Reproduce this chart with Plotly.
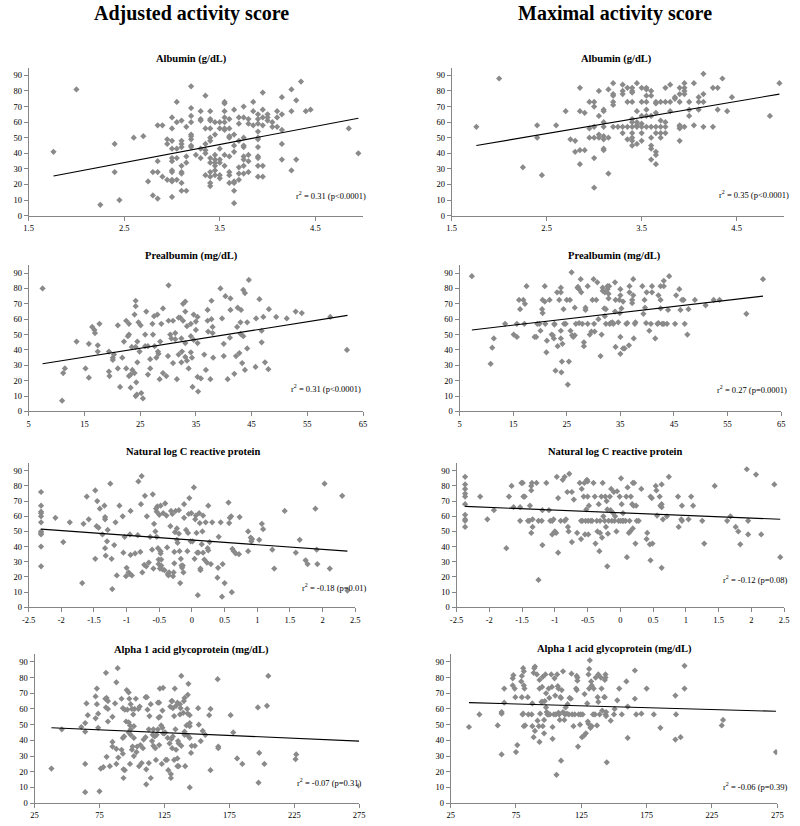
import plotly.graph_objects as go

# ---------------- Column headers & panel titles ----------------
col_headers = ["Adjusted activity score", "Maximal activity score"]
panel_titles = ["Albumin (g/dL)", "Albumin (g/dL)",
                "Prealbumin (mg/dL)", "Prealbumin (mg/dL)",
                "Natural log C reactive protein", "Natural log C reactive protein",
                "Alpha 1 acid glycoprotein (mg/dL)", "Alpha 1 acid glycoprotein (mg/dL)"]
stat_labels = ["r<sup>2</sup> = 0.31 (p&lt;0.0001)", "r<sup>2</sup> = 0.35 (p&lt;0.0001)",
               "r<sup>2</sup> = 0.31 (p&lt;0.0001)", "r<sup>2</sup> = 0.27 (p=0.0001)",
               "r<sup>2</sup> = -0.18 (p=0.01)", "r<sup>2</sup> = -0.12 (p=0.08)",
               "r<sup>2</sup> = -0.07 (p=0.31)", "r<sup>2</sup> = -0.06 (p=0.39)"]

# ---------------- Tick labels ----------------
y_ticks = [0, 10, 20, 30, 40, 50, 60, 70, 80, 90]
alb_ticks = [1.5, 2.5, 3.5, 4.5]
prealb_ticks = [5, 15, 25, 35, 45, 55, 65]
crp_ticks = [-2.5, -2, -1.5, -1, -0.5, 0, 0.5, 1, 1.5, 2, 2.5]
crp_ticktext = ["-2.5", "-2", "-1.5", "-1", "-0.5", "0", "0.5", "1", "1.5", "2", "2.5"]
agp_ticks = [25, 75, 125, 175, 225, 275]

# ---------------- Panel 1: Adjusted score vs Albumin ----------------
adj_alb_x = [1.76, 2.0, 2.25, 2.4, 2.4, 2.45, 2.6, 2.7, 2.75, 2.8, 2.8,
             2.85, 2.85, 2.85, 2.85, 2.9, 2.9, 2.95, 2.95, 2.95,
             3.0, 3.0, 3.0, 3.0, 3.0, 3.0, 3.0, 3.0, 3.0, 3.0, 3.0,
             3.05, 3.05, 3.05, 3.05, 3.05,
             3.1, 3.1, 3.1, 3.1, 3.1, 3.1, 3.1, 3.1, 3.1,
             3.15, 3.15, 3.15, 3.15,
             3.2, 3.2, 3.2, 3.2, 3.2, 3.2, 3.2, 3.2, 3.2,
             3.25,
             3.3, 3.3, 3.3, 3.3, 3.3,
             3.35, 3.35, 3.35, 3.35, 3.35, 3.35,
             3.4, 3.4, 3.4, 3.4, 3.4, 3.4, 3.4, 3.4, 3.4, 3.4, 3.4, 3.4,
             3.45, 3.45, 3.45, 3.45, 3.45, 3.45, 3.45, 3.45,
             3.5, 3.5, 3.5, 3.5, 3.5, 3.5, 3.5,
             3.55, 3.55, 3.55, 3.55, 3.55, 3.55, 3.55, 3.55, 3.55,
             3.6, 3.6, 3.6, 3.6, 3.6, 3.6, 3.6, 3.6,
             3.65, 3.65, 3.65, 3.65, 3.65, 3.65, 3.65, 3.65,
             3.7, 3.7, 3.7, 3.7, 3.7, 3.7,
             3.75, 3.75, 3.75, 3.75, 3.75, 3.75, 3.75, 3.75, 3.75,
             3.8, 3.8, 3.8, 3.8, 3.8,
             3.85, 3.85, 3.85,
             3.9, 3.9, 3.9, 3.9, 3.9, 3.9, 3.9, 3.9, 3.9, 3.9, 3.9,
             3.95, 3.95, 3.95, 3.95, 3.95, 3.95,
             4.0, 4.0, 4.0, 4.05, 4.05, 4.1, 4.1, 4.1,
             4.15, 4.15, 4.15, 4.15, 4.15,
             4.25, 4.25, 4.25, 4.3, 4.3, 4.35, 4.4, 4.45, 4.85, 4.95]
adj_alb_y = [41, 81, 7, 46, 28, 10, 50, 51, 22, 28, 13,
             58, 35, 28, 11, 58, 25, 49, 46, 23,
             63, 56, 48, 43, 37, 35, 29, 28, 23, 22, 12,
             73, 60, 43, 37, 23,
             61, 48, 46, 44, 32, 28, 27, 21, 16,
             57, 38, 34, 16,
             83, 69, 64, 60, 52, 51, 49, 45, 44,
             39,
             67, 62, 61, 43, 37,
             77, 56, 46, 42, 40, 26,
             67, 62, 61, 56, 50, 48, 37, 34, 28, 25, 21, 19,
             60, 52, 39, 36, 34, 32, 29, 26,
             60, 56, 43, 36, 34, 26, 24,
             73, 72, 67, 63, 60, 56, 55, 39, 32,
             62, 56, 51, 50, 38, 28, 26, 21,
             68, 52, 45, 41, 22, 21, 16, 8,
             63, 59, 48, 31, 27, 23,
             70, 63, 50, 45, 44, 38, 36, 32, 27,
             62, 59, 39, 35, 28,
             73, 67, 58,
             65, 62, 59, 54, 50, 49, 44, 38, 37, 32, 25,
             79, 68, 63, 58, 32, 25,
             65, 63, 61, 60, 57, 67, 63, 57,
             76, 65, 55, 46, 36,
             81, 67, 29, 74, 36, 86, 67, 68, 56, 40]
adj_alb_fit_x = [1.76, 4.95]
adj_alb_fit_y = [25.5, 62.5]

# ---------------- Panel 2: Maximal score vs Albumin ----------------
max_alb_x = [1.76, 2.0, 2.25, 2.4, 2.4, 2.45, 2.6, 2.7, 2.75, 2.8, 2.8,
             2.85, 2.85, 2.85, 2.85, 2.9, 2.9, 2.95, 2.95, 2.95,
             3.0, 3.0, 3.0, 3.0, 3.0, 3.0,
             3.05, 3.05, 3.05, 3.05,
             3.1, 3.1, 3.1, 3.1, 3.1, 3.1, 3.1, 3.1,
             3.15, 3.15, 3.15,
             3.2, 3.2, 3.2, 3.2, 3.2, 3.2,
             3.25,
             3.3, 3.3, 3.3, 3.3, 3.3,
             3.35, 3.35, 3.35, 3.35,
             3.4, 3.4, 3.4, 3.4, 3.4, 3.4, 3.4, 3.4, 3.4, 3.4, 3.4,
             3.45, 3.45, 3.45, 3.45, 3.45, 3.45,
             3.5, 3.5, 3.5, 3.5, 3.5, 3.5, 3.5,
             3.55, 3.55, 3.55, 3.55, 3.55, 3.55, 3.55,
             3.6, 3.6, 3.6, 3.6, 3.6, 3.6, 3.6, 3.6,
             3.65, 3.65, 3.65, 3.65, 3.65, 3.65, 3.65, 3.65,
             3.7, 3.7, 3.7, 3.7, 3.7,
             3.75, 3.75, 3.75, 3.75, 3.75,
             3.8, 3.8, 3.8,
             3.85, 3.85,
             3.9, 3.9, 3.9, 3.9, 3.9, 3.9, 3.9,
             3.95, 3.95, 3.95, 3.95, 3.95,
             4.0, 4.0, 4.0,
             4.05, 4.05,
             4.1, 4.1, 4.1,
             4.15, 4.15, 4.15, 4.15,
             4.25, 4.25, 4.3, 4.3, 4.35, 4.4, 4.45, 4.85, 4.95]
max_alb_y = [57, 88, 31, 58, 50, 26, 58, 67, 49, 48, 41,
             82, 67, 42, 33, 66, 42, 73, 56, 50,
             73, 70, 57, 50, 37, 18,
             80, 64, 52, 50,
             68, 67, 60, 57, 51, 49, 43, 42,
             81, 50, 27,
             85, 78, 77, 73, 71, 57,
             57,
             84, 80, 78, 57, 53,
             82, 73, 57, 49,
             82, 80, 79, 73, 62, 60, 57, 53, 50, 48, 45,
             85, 67, 60, 58, 57, 46,
             82, 73, 64, 59, 57, 53, 48,
             82, 81, 77, 73, 68, 64, 57,
             80, 77, 64, 57, 50, 45, 43, 36,
             73, 72, 66, 57, 53, 41, 39, 33,
             73, 61, 57, 53, 50,
             82, 73, 60, 57, 53,
             84, 73, 67,
             76, 75,
             82, 78, 73, 58, 57, 56, 48,
             85, 82, 80, 78, 57,
             73, 68, 64,
             85, 58,
             76, 73, 68,
             91, 78, 73, 57,
             82, 57, 82, 68, 88, 67, 76, 64, 85]
max_alb_fit_x = [1.76, 4.95]
max_alb_fit_y = [45, 78]

# ---------------- Panel 3: Adjusted score vs Prealbumin ----------------
adj_pre_x = [7.5, 11, 11.2, 11.5, 13.6, 15.2, 15.8, 15.8, 16.4, 16.8, 16.9, 17.4, 17.4, 17.7,
             19.4, 19.4, 19.5, 20.1, 20.1, 20.3, 21, 21, 21.4, 21.8, 22.1, 22.5, 22.5, 22.8, 23,
             23, 23, 23.3, 23.3, 23.5, 23.6, 24, 24, 24.2, 24.2, 24.2, 24.3, 24.2, 24.4, 24.5,
             24.5, 24.7, 24.9, 25.1, 25.2, 25.5, 25.9, 25.9, 26.1, 26.4, 26.4, 26.8, 26.8, 27.2,
             27.3, 27.5, 27.6, 27.9, 28.1, 28.2, 28.3, 28.5, 28.6, 28.8, 29.1, 29.1, 29.7, 30,
             30.1, 30.1, 30.4, 30.6, 30.9, 30.9, 31.3, 31.3, 31.6, 31.9, 31.9, 32.2, 32.4, 32.4,
             32.5, 32.7, 32.7, 33.1, 33.1, 33.1, 33.1, 33.4, 33.4, 33.7, 34.1, 34.1, 34.1, 34.3,
             34.4, 34.6, 34.6, 35, 35, 35.3, 35.3, 35.3, 35.4, 35.9, 36.5, 36.8, 37.1, 37.1, 37.2,
             37.6, 37.8, 37.8, 38, 38, 38.1, 39.4, 39.7, 40, 40, 40.3, 40.7, 41.1, 41.2, 41.2, 41.9,
             42.2, 42.4, 42.5, 42.8, 43, 43, 43.1, 43.3, 43.5, 43.8, 43.5, 43.8, 44.2, 44.2, 44.5,
             45.7, 45.8, 46.4, 46.8, 46.8, 47.1, 47.4, 48, 48.1, 49.4, 51.3, 52.9, 54, 59.1, 62.1]
adj_pre_y = [80, 7, 25, 28, 45.5, 28, 44, 22, 55, 53, 51, 43, 39, 57,
             39, 26, 23, 35, 33.5, 37, 28, 56, 16, 35, 45.5, 59, 28, 49, 23,
             57, 50, 15.5, 24, 42, 27, 63, 25, 72, 68.5, 42, 19, 10, 11, 45.5,
             32, 58, 39, 56, 12, 8.5, 42.5, 50, 65, 24, 42.5, 28, 34, 57,
             50, 62, 42.5, 35, 63, 39, 37.5, 21, 45.5, 57, 67, 25, 23, 36,
             59, 82, 50, 47.5, 59, 31.5, 47, 51, 21, 61, 37, 61, 47.5, 32,
             39, 59, 70, 71.5, 65, 35.5, 44.5, 55.5, 33, 28, 57, 49, 38.5, 35,
             16, 63, 46.5, 53, 58.5, 61.5, 22.5, 44.5, 13, 21.5, 37, 27, 59, 66, 52,
             21, 60, 72, 55, 51, 35, 80, 60.5, 36, 44, 75, 21, 48, 73.5, 66, 24.5,
             36, 55, 67.5, 38, 58, 50.5, 66, 31.5, 79, 77, 49, 27, 58, 41, 85.5,
             29, 60.5, 73, 52.5, 45, 61.5, 32, 27.5, 66.5, 61.5, 60.5, 65, 64, 61.5, 40]
adj_pre_fit_x = [7.5, 62.2]
adj_pre_fit_y = [31, 62.5]

# ---------------- Panel 4: Maximal score vs Prealbumin ----------------
max_pre_x = [7.3, 10.8, 11.1, 11.4, 13.5, 15.1, 15.7, 15.7, 16.3, 16.1, 16.9, 17.2, 17.1, 17.5,
             19, 19.3, 19.5, 19.9, 20.1, 20.4, 20.5, 20.5, 20.9, 20.9, 21, 21.2, 21.3, 21.8,
             22.2, 22.4, 22.6, 22.7, 22.7, 22.9, 23.2, 23.3, 23.6, 23.9, 23.9, 23.9, 23.9, 24,
             24.1, 24.2, 24.4, 24.5, 24.8, 25, 25.2, 25.4, 25.6, 25.7, 25.9, 26, 26.2, 26.5, 26.5,
             26.7, 27, 27.1, 27.3, 27.3, 27.6, 27.7, 27.9, 28.2, 28.2, 28.5, 28.5, 28.9, 28.9,
             29.3, 29.6, 29.8, 30, 30.1, 30.2, 30.5, 30.7, 30.9, 31.3, 31.5, 31.7, 31.7, 32,
             32.1, 32.1, 32.3, 32.3, 32.6, 32.6, 32.8, 32.8, 32.9, 33, 33.2, 33.5, 33.7, 34, 34,
             34.1, 34.1, 34.6, 34.8, 34.9, 35, 35, 35, 35, 35.2, 35.5, 35.5, 35.8, 36.1, 36.3,
             36.6, 36.7, 36.7, 37.2, 37.2, 37.4, 37.4, 37.5, 37.7, 37.8, 39.1, 39.3, 39.5, 39.6,
             39.8, 39.9, 40.4, 40.7, 40.9, 40.9, 41.5, 41.9, 42.1, 42.1, 42.5, 42.5, 43.1, 42.5,
             42.8, 43.1, 43.1, 43.7, 43.9, 44.1, 45.2, 45.4, 46, 46.2, 46.5, 46.8, 47, 47.5, 47.7,
             48.9, 50.9, 52.4, 53.5, 58.5, 61.6]
max_pre_y = [88, 31, 41.5, 47.5, 57, 50, 48.5, 57, 66.5, 72.5, 72.5, 70, 57, 81.5,
             48.5, 48.5, 57, 57, 52.5, 66.5, 72.5, 64, 81.5, 71.5, 57, 38.5, 46, 72.5,
             50, 49.5, 47.5, 57, 56.5, 26.5, 77.5, 42.5, 72.5, 80.5, 77.5, 52.5, 47.5, 25.5,
             32.5, 44, 66.5, 57, 57, 72.5, 17.5, 32.5, 72.5, 52.5, 90.5, 49.5, 48.5, 49.5, 67.5,
             57, 80.5, 81, 57.5, 79.5, 86, 77.5, 57, 45, 42.5, 67.5, 66, 81.5, 57,
             50, 52, 72.5, 86, 57, 52, 72.5, 84, 60, 36, 50, 78.5, 80.5, 67,
             77.5, 62, 57, 66.5, 81.5, 79.5, 73.5, 76.5, 81.5, 57, 57.5, 58, 57, 84, 65,
             72.5, 42, 58, 72.5, 64, 79.5, 75.5, 37.5, 48.5, 67, 71.5, 41, 41, 57, 57.5,
             43, 81.5, 77.5, 72.5, 70.5, 86, 75.5, 47.5, 57, 58, 81.5, 63.5, 72.5, 67.5,
             57.5, 77.5, 52.5, 57, 77.5, 81.5, 47.5, 57, 57.5, 75.5, 72.5, 81.5, 81.5, 67,
             57, 85, 57, 57, 66, 88, 57, 75.5, 79.5, 66, 72.5, 72.5, 57, 50, 66.5,
             72.5, 69, 72.5, 72.5, 63.5, 86]
max_pre_fit_x = [7.3, 61.6]
max_pre_fit_y = [53, 75]

# ---------------- Panel 5: Adjusted score vs ln CRP ----------------
adj_crp_x = [-2.31, -2.31, -2.31, -2.31, -2.31, -2.31, -2.31, -2.31, -2.31, -2.31, -2.31,
             -2.09, -1.97, -1.87, -1.68, -1.66, -1.61, -1.58, -1.48, -1.48, -1.46, -1.43, -1.45,
             -1.41, -1.37, -1.34, -1.33, -1.33, -1.33, -1.32, -1.3, -1.29, -1.25, -1.23, -1.22,
             -1.19, -1.17, -1.15, -1.11, -1.06, -1.05, -1.03, -1.01, -1.0, -0.97, -0.95, -0.95,
             -0.94, -0.94, -0.92, -0.87, -0.82, -0.83, -0.79, -0.78, -0.77, -0.76, -0.73, -0.72,
             -0.7, -0.69, -0.66, -0.64, -0.61, -0.6, -0.59, -0.58, -0.56, -0.55, -0.54, -0.54,
             -0.53, -0.52, -0.51, -0.51, -0.5, -0.49, -0.48, -0.48, -0.48, -0.47, -0.47, -0.45,
             -0.44, -0.42, -0.41, -0.39, -0.38, -0.37, -0.36, -0.35, -0.33, -0.32, -0.3, -0.29,
             -0.28, -0.27, -0.27, -0.26, -0.25, -0.23, -0.23, -0.22, -0.2, -0.2, -0.19, -0.18,
             -0.17, -0.16, -0.15, -0.14, -0.13, -0.12, -0.12, -0.09, -0.07, -0.06, -0.05, -0.04,
             -0.02, -0.01, 0.01, 0.03, 0.04, 0.05, 0.06, 0.07, 0.08, 0.09, 0.1, 0.11, 0.12, 0.13,
             0.13, 0.15, 0.16, 0.17, 0.17, 0.19, 0.21, 0.23, 0.24, 0.25, 0.25, 0.27, 0.29, 0.31,
             0.39, 0.4, 0.41, 0.44, 0.46, 0.47, 0.5, 0.56, 0.57, 0.58, 0.6, 0.61, 0.62, 0.64, 0.67,
             0.72, 0.73, 0.86, 0.86, 0.9, 0.91, 0.92, 1.03, 1.07, 1.09, 1.23, 1.26, 1.42, 1.59,
             1.65, 1.74, 1.77, 1.89, 1.91, 1.92, 2.03, 2.11, 2.3, 2.38]
adj_crp_y = [76, 67, 63, 62, 60, 56, 50, 49, 48, 40, 27,
             59, 43, 56, 16, 55, 73, 58, 77, 32, 53.5, 52.5, 70,
             65, 48, 67, 59.5, 58, 39, 34, 43.5, 51, 81.5, 32, 12,
             41, 56, 21, 67, 60, 36, 46.5, 20.5, 26, 23, 48, 22,
             34.5, 63.5, 21, 35.5, 83, 47.5, 36.5, 68, 86.5, 23, 28, 73.5,
             27, 60, 29.5, 46.5, 38, 74.5, 25.5, 55, 50, 65, 46.5, 63,
             66.5, 39, 31.5, 28.5, 61, 25.5, 37, 35.5, 67, 31.5, 27.5, 25,
             62, 24.5, 68.5, 60.5, 39.5, 22, 21, 23, 53.5, 63.5, 61.5, 20.5,
             23, 36.5, 29, 49.5, 63.5, 52, 44.5, 42.5, 64, 48.5, 37, 16,
             32, 27.5, 26, 27.5, 23, 59, 68, 51, 37, 49, 61.5, 72,
             43.5, 62, 43.5, 79, 32, 58, 60.5, 49, 36, 8, 36, 62, 55.5, 24.5,
             25.5, 41.5, 50, 36, 60.5, 31.5, 56, 29.5, 39, 37.5, 67, 43, 28.5, 56,
             19.5, 26, 46.5, 56, 7, 28.5, 16, 69, 55.5, 59, 60, 10, 38.5, 37, 35.5,
             35, 59.5, 50, 37, 46, 43.5, 45, 44.5, 55, 51.5, 38, 25.5, 63.5, 36,
             44.5, 31, 28.5, 65, 38, 28.5, 81.5, 25.5, 73.5, 11]
adj_crp_fit_x = [-2.31, 2.38]
adj_crp_fit_y = [51.5, 37]

# ---------------- Panel 6: Maximal score vs ln CRP ----------------
max_crp_x = [-2.37, -2.37, -2.37, -2.37, -2.37, -2.37, -2.37, -2.37, -2.37, -2.37,
             -2.14, -2.03, -1.93, -1.74, -1.7, -1.66, -1.63, -1.53, -1.53, -1.51, -1.49, -1.48,
             -1.46, -1.41, -1.39, -1.38, -1.36, -1.36, -1.36, -1.34, -1.35, -1.34, -1.28, -1.25,
             -1.25, -1.2, -1.19, -1.19, -1.13, -1.09, -1.07, -1.04, -1.02, -1.04, -1.0, -0.98,
             -0.97, -0.95, -0.95, -0.91, -0.88, -0.85, -0.85, -0.83, -0.81, -0.8, -0.79, -0.78,
             -0.74, -0.74, -0.71, -0.66, -0.62, -0.6, -0.6, -0.59, -0.58, -0.56, -0.55, -0.54,
             -0.53, -0.52, -0.51, -0.5, -0.5, -0.49, -0.49, -0.48, -0.45, -0.43, -0.41, -0.39,
             -0.38, -0.36, -0.35, -0.33, -0.32, -0.31, -0.31, -0.29, -0.28, -0.27, -0.26, -0.24,
             -0.23, -0.22, -0.21, -0.2, -0.2, -0.19, -0.18, -0.16, -0.15, -0.14, -0.13, -0.11,
             -0.1, -0.09, -0.08, -0.06, -0.05, -0.03, -0.01, 0.0, 0.01, 0.02, 0.03, 0.04, 0.05,
             0.08, 0.09, 0.1, 0.11, 0.13, 0.14, 0.15, 0.16, 0.18, 0.19, 0.21, 0.19, 0.2, 0.23,
             0.24, 0.25, 0.28, 0.32, 0.4, 0.41, 0.45, 0.46, 0.46, 0.48, 0.49, 0.54, 0.55, 0.56,
             0.6, 0.61, 0.63, 0.63, 0.63, 0.63, 0.65, 0.71, 0.74, 0.88, 0.89, 0.93, 0.94, 0.94,
             1.04, 1.08, 1.11, 1.25, 1.28, 1.44, 1.63, 1.68, 1.76, 1.8, 1.83, 1.93, 1.95, 1.95,
             2.07, 2.15, 2.35, 2.44]
max_crp_y = [86, 81, 78, 75, 73, 68, 61, 58, 57, 53,
             73, 58, 64, 39, 73, 80, 66, 66, 57, 82, 82, 73,
             73, 57, 57, 67, 77, 80, 49, 53, 82, 58, 82, 18,
             57, 57, 64, 41, 82, 64, 57, 57, 58, 48, 50, 49,
             86, 36, 72, 57, 84, 86, 57, 58, 76, 53, 50, 88,
             76, 43, 71, 49, 82, 57, 45, 78, 57, 73, 82, 48,
             57, 64.5, 84, 83, 73, 57, 48, 67, 57, 57, 82, 73,
             42, 57, 50, 68, 37, 57, 49, 73, 46, 82, 60, 57,
             73, 53, 70, 27, 64.5, 48.5, 57, 73, 64, 78, 57, 62,
             76, 57, 60, 50, 76.5, 57, 73, 57, 85, 68, 57, 62, 57,
             57, 73, 33, 79, 49, 57, 50, 73, 68, 82, 82, 52, 67, 42,
             67, 57, 57, 78, 45, 49, 41.5, 31, 73, 72, 42, 80, 77, 60.5,
             73, 67, 68, 66, 26, 81, 58, 60, 86, 73, 53, 58, 57, 67,
             58, 73, 67, 57, 42, 80, 57, 60, 53, 50, 41.5, 91, 57, 48,
             87.5, 48, 81, 33]
max_crp_fit_x = [-2.37, 2.44]
max_crp_fit_y = [66.5, 58]

# ---------------- Panel 7: Adjusted score vs AGP ----------------
adj_agp_x = [38, 46, 61, 64, 64, 64, 64, 65, 66, 72, 72, 73, 73, 74, 74, 76, 75, 78,
             79.5, 80, 80, 80.5, 81.5, 81.5, 80.5, 81.5, 83, 85, 85, 85, 87, 88, 88, 88, 89,
             89.5, 92, 92, 93, 93, 93, 93.5, 93.5, 94, 94.5, 94.5, 95.5, 96, 96.5, 97.5, 97.5,
             97.5, 98.5, 98, 98.5, 99, 99, 99, 100, 100, 100.5, 101, 101.5, 101.5, 101.5, 102,
             103, 103.5, 104, 105, 105.5, 106, 106.5, 107.5, 108.5, 109, 110.5, 111.5, 110.5, 111,
             111, 112, 113, 113, 113.5, 114.5, 114.5, 115.5, 116, 116.5, 116.5, 117.5, 118, 118.5,
             119, 120, 120.5, 121, 121.5, 122.5, 123, 123.5, 124, 124, 125, 125.5, 126, 127, 120,
             121, 121.5, 123.5, 127.5, 128, 129, 130, 130.5, 131, 131.5, 132.5, 133.5, 134, 129.5,
             130, 130.5, 131, 131.5, 132.5, 133, 134, 135, 135, 135, 136, 135.5, 136, 137, 137.5,
             137, 138, 139.5, 140, 140.5, 140.5, 141, 138, 143, 142, 143, 140.5, 142.5, 144.5, 146,
             143.5, 143, 144.5, 144.5, 144.5, 144.5, 145.5, 148.5, 151, 151.5, 153, 154.5, 156.5,
             159.5, 160.5, 160.5, 166, 166.5, 166.5, 176, 178, 181, 185, 197, 197.5, 198, 202, 204,
             205, 226, 226.5, 275]
adj_agp_y = [22, 47, 48.5, 51, 45.5, 25, 7, 63.5, 56, 54, 68, 73, 63, 48, 57, 22, 7.5, 23,
             66.5, 61, 83, 67, 65, 60, 29.5, 52, 23.5, 39, 36, 55, 63.5, 25, 34.5, 77, 86,
             29, 66.5, 34, 60.5, 41.5, 31.5, 21.5, 16, 42.5, 59.5, 21, 52, 72, 59.5, 70.5, 51.5,
             45, 25, 66.5, 49.5, 63, 47, 43.5, 60, 34, 36, 56.5, 49, 41.5, 30, 60,
             66.5, 32.5, 36, 60, 23.5, 61.5, 37, 25.5, 35, 40.5, 67.5, 67.5, 42, 21.5,
             12, 59.5, 47, 25.5, 55.5, 63, 16, 39.5, 43.5, 47, 36.5, 42.5, 35, 27.5,
             43.5, 47, 54.5, 37, 55, 49.5, 25, 48, 44.5, 73.5, 44.5, 45, 27.5, 27.5, 64,
             64, 73, 59, 41.5, 21, 38, 16, 41, 35, 42.5, 27.5, 47, 34, 61.5,
             18.5, 65, 65, 60.5, 55.5, 73, 62, 64, 28.5, 23.5, 23.5, 39.5, 38, 56.5, 60.5,
             63, 36.5, 57.5, 65, 67, 45.5, 23.5, 81, 43, 49.5, 57, 43.5, 60, 41.5, 36.5,
             76, 69, 51, 49, 56, 10, 32, 36.5, 60.5, 50, 39.5, 46, 43.5,
             56, 60, 21, 79, 35, 36, 56, 45, 28.5, 25, 61, 13, 32, 25, 62,
             81, 28, 31, 11]
adj_agp_fit_x = [38, 275]
adj_agp_fit_y = [48, 39.5]

# ---------------- Panel 8: Maximal score vs AGP ----------------
max_agp_x = [39, 47, 61, 64, 64, 64, 66, 66, 72.5, 73, 72.5, 74, 74.5, 75, 76, 79, 79.5,
             79.5, 80, 80.5, 80.5, 81, 81, 81.5, 81, 82, 84, 84.5, 87, 87.5, 87.5, 88.5, 88.5,
             89, 89.5, 89.5, 91, 91.5, 92.5, 93, 93, 93, 93.5, 94.5, 95, 95, 95.5, 95.5, 96.5,
             96.5, 97, 97.5, 98, 98, 98.5, 99, 100, 100, 100.5, 101, 102, 102.5, 103, 103, 104,
             104.5, 105, 105.5, 106, 106.5, 107, 107.5, 107.5, 108, 108.5, 109, 109.5, 109.5, 110,
             111, 111, 112, 112.5, 113, 114, 114.5, 115.5, 116, 117, 117.5, 118, 119, 120, 121,
             121.5, 121.5, 122, 122, 122.5, 123, 124, 124.5, 125.5, 126, 127, 127.5, 128.5, 129.5,
             130, 130.5, 130.5, 131, 131.5, 131, 132, 133, 132.5, 133, 134, 134.5, 135.5, 136, 137,
             137.5, 138, 138, 139, 140, 140.5, 141, 142.5, 143, 143, 143.5, 143.5, 143.5, 144, 144,
             144.5, 147.5, 150, 150.5, 152.5, 154, 156, 159.5, 160.5, 160.5, 166, 166, 167, 171,
             175, 180.5, 185.5, 197, 197.5, 197, 201, 204, 204, 232.5, 233.5, 274]
max_agp_y = [48.5, 56.5, 49.5, 57, 58, 31, 64, 73, 79.5, 81.5, 75, 73, 67.5, 32.5, 37, 77.5, 81,
             67.5, 56.5, 57, 86, 84, 75, 73, 49, 49.5, 67.5, 56.5, 56.5, 63.5, 49, 83, 42,
             86, 87, 46, 82, 52.5, 49, 78.5, 73, 39, 57, 64.5, 64.5, 74, 49, 80.5, 53,
             44.5, 65, 82, 70, 61, 58, 56.5, 56.5, 73, 67, 56.5, 82, 74, 41, 48.5, 56.5,
             79.5, 68.5, 56.5, 18, 82, 74.5, 73, 57.5, 56.5, 53, 67.5, 67, 27, 72,
             84, 58, 53, 56.5, 61, 57, 63, 56.5, 67, 66.5, 82.5, 56.5, 49, 56.5, 73,
             72, 81, 80, 78, 36, 56.5, 50, 56.5, 42, 56.5, 43, 69.5, 44.5, 63.5,
             52, 50.5, 82, 85.5, 91, 73, 48, 49, 77.5, 75, 56.5, 73, 56.5, 80, 49.5,
             67.5, 64.5, 82, 56.5, 80, 73, 59, 67.5, 67.5, 78.5, 80, 82, 56.5, 58, 55.5,
             26, 52.5, 56.5, 60, 65.5, 73, 56.5, 77.5, 61.5, 41.5, 84.5, 66.5, 56.5, 57,
             73, 56.5, 48, 68.5, 56.5, 40.5, 42, 73, 87.5, 49.5, 53, 32.5]
max_agp_fit_x = [39, 274]
max_agp_fit_y = [64, 58.5]

# ---------------- Build figure ----------------
panels = [
    (adj_alb_x, adj_alb_y, adj_alb_fit_x, adj_alb_fit_y, [1.5, 5.0], alb_ticks, None),
    (max_alb_x, max_alb_y, max_alb_fit_x, max_alb_fit_y, [1.5, 5.0], alb_ticks, None),
    (adj_pre_x, adj_pre_y, adj_pre_fit_x, adj_pre_fit_y, [5, 65], prealb_ticks, None),
    (max_pre_x, max_pre_y, max_pre_fit_x, max_pre_fit_y, [5, 65], prealb_ticks, None),
    (adj_crp_x, adj_crp_y, adj_crp_fit_x, adj_crp_fit_y, [-2.5, 2.5], crp_ticks, crp_ticktext),
    (max_crp_x, max_crp_y, max_crp_fit_x, max_crp_fit_y, [-2.5, 2.5], crp_ticks, crp_ticktext),
    (adj_agp_x, adj_agp_y, adj_agp_fit_x, adj_agp_fit_y, [25, 275], agp_ticks, None),
    (max_agp_x, max_agp_y, max_agp_fit_x, max_agp_fit_y, [25, 275], agp_ticks, None),
]

W, H = 800, 826
# plot-area pixel boxes (left, right, top, bottom)
boxes = [
    (22, 362, 68, 217), (452, 790, 68, 217),
    (22, 362, 267, 414), (460, 787, 267, 414),
    (22, 354, 466, 611), (457, 790, 466, 611),
    (28, 358, 658, 808), (451, 783, 658, 808),
]
title_pos = [(188, 59), (620, 59), (188, 258), (618, 258),
             (189, 454), (618, 454), (188, 654), (618, 653)]
stat_pos = [(367, 197), (797, 196), (362, 391), (795, 392),
            (367, 591), (795, 583), (362, 787), (795, 791)]

SERIF = "Liberation Serif, Times New Roman, serif"
AXIS_COLOR = "#868686"
fig = go.Figure()
layout = dict(width=W, height=H, margin=dict(l=0, r=0, t=0, b=0),
              paper_bgcolor="white", plot_bgcolor="white", showlegend=False,
              font=dict(family=SERIF, color="black"))
annotations = []

for i, (px, py, fx, fy, xr, xt, xtt) in enumerate(panels):
    n = i + 1
    xa = "x" if n == 1 else f"x{n}"
    ya = "y" if n == 1 else f"y{n}"
    fig.add_trace(go.Scatter(x=px, y=py, mode="markers", xaxis=xa, yaxis=ya,
                             marker=dict(symbol="diamond", size=4.8, color="#8a8a8a",
                                         line=dict(width=0)),
                             hoverinfo="skip"))
    fig.add_trace(go.Scatter(x=fx, y=fy, mode="lines", xaxis=xa, yaxis=ya,
                             line=dict(color="black", width=1.1), hoverinfo="skip"))
    l, r, t, b = boxes[i]
    xkey = "xaxis" if n == 1 else f"xaxis{n}"
    ykey = "yaxis" if n == 1 else f"yaxis{n}"
    layout[xkey] = dict(domain=[l / W, r / W], range=xr, anchor=ya,
                        tickvals=xt, ticktext=xtt if xtt else [str(v) for v in xt],
                        showline=True, linecolor=AXIS_COLOR, linewidth=1,
                        ticks="outside", ticklen=4, tickcolor=AXIS_COLOR,
                        showgrid=False, zeroline=False,
                        tickfont=dict(family=SERIF, size=8.5, color="black"))
    layout[ykey] = dict(domain=[1 - b / H, 1 - t / H], range=[0, 95], anchor=xa,
                        tickvals=y_ticks, ticktext=[str(v) for v in y_ticks],
                        showline=True, linecolor=AXIS_COLOR, linewidth=1,
                        ticks="outside", ticklen=4, tickcolor=AXIS_COLOR,
                        showgrid=False, zeroline=False,
                        tickfont=dict(family=SERIF, size=8.5, color="black"))
    tx, ty = title_pos[i]
    annotations.append(dict(text="<b>" + panel_titles[i] + "</b>", x=tx / W, y=1 - ty / H,
                            xref="paper", yref="paper", showarrow=False,
                            xanchor="center", yanchor="middle",
                            font=dict(family=SERIF, size=10.5, color="black")))
    sx, sy = stat_pos[i]
    annotations.append(dict(text=stat_labels[i], x=sx / W, y=1 - sy / H,
                            xref="paper", yref="paper", showarrow=False,
                            xanchor="right", yanchor="middle",
                            font=dict(family=SERIF, size=8.5, color="black")))

for cx, txt in zip([188, 618], col_headers):
    annotations.append(dict(text="<b>" + txt + "</b>", x=cx / W, y=1 - 14 / H,
                            xref="paper", yref="paper", showarrow=False,
                            xanchor="center", yanchor="middle",
                            font=dict(family=SERIF, size=20, color="black")))

layout["annotations"] = annotations
fig.update_layout(**layout)
# remove the browser's default 8px body margin so the figure fills the window exactly
fig.write_html("out.html",
               config={"displayModeBar": False},
               post_script="document.body.style.margin='0';document.body.style.overflow='hidden';")
